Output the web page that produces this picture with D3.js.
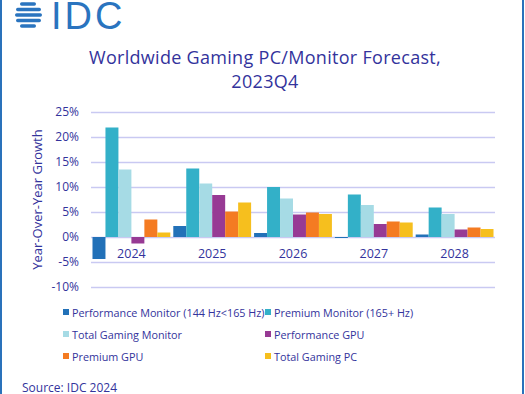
<!DOCTYPE html>
<html>
<head>
<meta charset="utf-8">
<script src="https://cdn.jsdelivr.net/npm/d3@7"></script>
<style>
  body { margin: 0; background: #fff; }
  svg { display: block; font-family: "Open Sans", sans-serif; }
</style>
</head>
<body>
<div id="chart"></div>
<script>
const years = ['2024', '2025', '2026', '2027', '2028'];
const seriesNames = [
  'Performance Monitor (144 Hz<165 Hz)',
  'Premium Monitor (165+ Hz)',
  'Total Gaming Monitor',
  'Performance GPU',
  'Premium GPU',
  'Total Gaming PC'
];
const seriesColors = ['#2271b8', '#33b0c8', '#a6dbe5', '#973a94', '#f47b22', '#f6bf1e'];
const perfMonitor = [-4.4, 2.2, 0.8, -0.2, 0.5];
const premiumMonitor = [21.9, 13.7, 10.0, 8.5, 5.9];
const totalMonitor = [13.5, 10.7, 7.7, 6.4, 4.6];
const perfGpu = [-1.3, 8.4, 4.5, 2.6, 1.5];
const premiumGpu = [3.5, 5.1, 4.9, 3.1, 1.9];
const totalPc = [0.9, 6.9, 4.6, 2.9, 1.6];
const yTicks = [-10, -5, 0, 5, 10, 15, 20, 25];

const allSeries = [perfMonitor, premiumMonitor, totalMonitor, perfGpu, premiumGpu, totalPc];

const width = 525, height = 394;
const textColor = '#33339c';
const plotLeft = 91, plotRight = 495, plotTop = 112, plotBottom = 287;

const svg = d3.select('#chart').append('svg')
  .attr('width', width)
  .attr('height', height);

svg.append('rect').attr('width', width).attr('height', height).attr('fill', '#fff');

// bordure
svg.append('rect').attr('x', 0).attr('y', 0).attr('width', 2).attr('height', height).attr('fill', '#2a72bb');
svg.append('rect').attr('x', 522).attr('y', 0).attr('width', 2).attr('height', height).attr('fill', '#2a72bb');

// logo IDC
const logo = svg.append('g');
const stripes = [
  [4, 20, 36], [9.5, 16, 41], [15, 15, 42], [20.5, 16, 41], [26, 20, 36]
];
logo.selectAll('rect.stripe')
  .data(stripes)
  .join('rect')
  .attr('class', 'stripe')
  .attr('x', d => d[1])
  .attr('y', d => d[0] - 1.7)
  .attr('width', d => d[2] - d[1])
  .attr('height', 3.4)
  .attr('rx', 1.7)
  .attr('fill', '#2a74bf');
logo.append('text')
  .attr('x', 51)
  .attr('y', 29)
  .attr('fill', '#2a74bf')
  .style('font-family', '"Liberation Sans", Arial, sans-serif')
  .style('font-size', '38px')
  .style('letter-spacing', '3px')
  .text('IDC');

// titre
svg.append('text')
  .attr('x', 265).attr('y', 64)
  .attr('text-anchor', 'middle')
  .attr('fill', textColor)
  .style('font-size', '18px')
  .style('letter-spacing', '0.3px')
  .text('Worldwide Gaming PC/Monitor Forecast,');
svg.append('text')
  .attr('x', 265).attr('y', 88)
  .attr('text-anchor', 'middle')
  .attr('fill', textColor)
  .style('font-size', '18px')
  .style('letter-spacing', '0.3px')
  .text('2023Q4');

const x0 = d3.scaleBand().domain(years).range([plotLeft, plotRight]).paddingInner(0).paddingOuter(0);
const x1 = d3.scaleBand().domain(d3.range(seriesNames.length))
  .range([0, x0.bandwidth()]).paddingOuter(0.115).paddingInner(0);
const y = d3.scaleLinear().domain([-10, 25]).range([plotBottom, plotTop]);

// grille
svg.append('g')
  .attr('transform', `translate(${plotLeft},0)`)
  .call(d3.axisLeft(y).tickValues(yTicks).tickSize(-(plotRight - plotLeft)).tickFormat(''))
  .call(g => g.select('.domain').remove())
  .selectAll('line')
  .attr('stroke', '#c9c9f2')
  .attr('stroke-width', 1.6);

// axe y
svg.append('g')
  .attr('transform', `translate(${plotLeft - 12},0)`)
  .call(d3.axisLeft(y).tickValues(yTicks).tickSize(0).tickPadding(0).tickFormat(d => d + '%'))
  .call(g => g.select('.domain').remove())
  .selectAll('text')
  .attr('fill', textColor)
  .style('font-family', '"Open Sans", sans-serif')
  .style('font-size', '12px');

svg.append('text')
  .attr('transform', `translate(42,${(plotTop + plotBottom) / 2}) rotate(-90)`)
  .attr('text-anchor', 'middle')
  .attr('fill', textColor)
  .style('font-size', '13px')
  .text('Year-Over-Year Growth');

// barres
const groups = svg.append('g')
  .selectAll('g')
  .data(years)
  .join('g')
  .attr('transform', d => `translate(${x0(d)},0)`);

groups.selectAll('rect')
  .data((d, i) => allSeries.map((s, k) => ({ k, v: s[i] })))
  .join('rect')
  .attr('x', d => x1(d.k))
  .attr('y', d => y(Math.max(0, d.v)))
  .attr('width', x1.bandwidth())
  .attr('height', d => Math.abs(y(d.v) - y(0)))
  .attr('fill', d => seriesColors[d.k]);

// étiquettes des années
svg.append('g')
  .attr('transform', `translate(0,${y(0)})`)
  .call(d3.axisBottom(x0).tickSize(0).tickPadding(12))
  .call(g => g.select('.domain').remove())
  .selectAll('text')
  .attr('fill', textColor)
  .style('font-family', '"Open Sans", sans-serif')
  .style('font-size', '12.5px');

// légende
const legendPos = [[63, 313], [265, 313], [63, 335], [265, 335], [63, 357], [265, 357]];
const legend = svg.append('g')
  .selectAll('g')
  .data(seriesNames)
  .join('g')
  .attr('transform', (d, i) => `translate(${legendPos[i][0]},${legendPos[i][1]})`);
legend.append('rect')
  .attr('x', 0).attr('y', -4)
  .attr('width', 6).attr('height', 6)
  .attr('fill', (d, i) => seriesColors[i]);
legend.append('text')
  .attr('x', 9).attr('y', 3.5)
  .attr('fill', textColor)
  .style('font-size', '10.8px')
  .text(d => d);

svg.append('text')
  .attr('x', 22).attr('y', 392)
  .attr('fill', textColor)
  .style('font-size', '12px')
  .text('Source: IDC 2024');
</script>
</body>
</html>
